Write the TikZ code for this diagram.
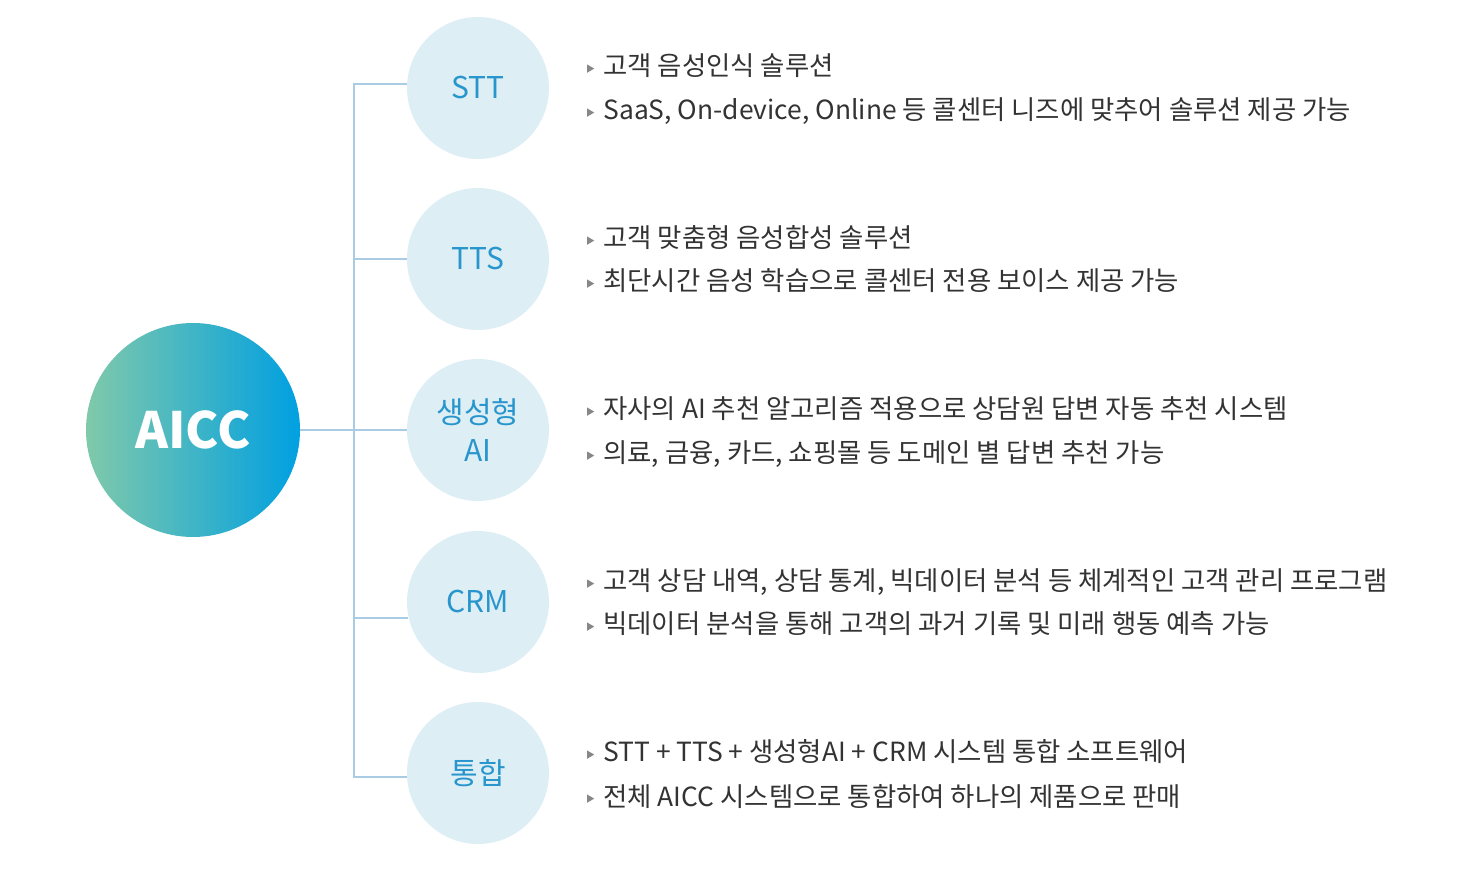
\documentclass[tikz,border=0pt]{standalone}
\usepackage{fontspec}
\setmainfont{Noto Sans CJK KR}
\usetikzlibrary{positioning}
\definecolor{aiccL}{RGB}{128,201,170}
\definecolor{aiccM}{RGB}{0,180,200}
\definecolor{aiccR}{RGB}{0,160,225}
\definecolor{topicfill}{RGB}{221,238,245}
\definecolor{topicblue}{RGB}{40,150,205}
\definecolor{linkblue}{RGB}{170,203,228}
\definecolor{textdark}{RGB}{51,51,51}
\definecolor{bulletgray}{RGB}{135,135,135}
\tikzset{
	hub/.style={circle, minimum size=107pt, inner sep=0pt, left color=aiccL, middle color=aiccM,
		right color=aiccR, text=white, font=\fontsize{25}{28}\selectfont\bfseries},
	topic/.style={circle, minimum size=71pt, inner sep=0pt, fill=topicfill, text=topicblue,
		align=center, font=\fontsize{15}{19}\selectfont},
	desc/.style={anchor=west, inner sep=0pt, text=textdark, text height=0.8em, text depth=0.1em,
		font=\fontsize{13.2}{15}\selectfont},
	branch/.style={draw=linkblue, line width=0.8pt}
}

\begin{document}
\begin{tikzpicture}[x=0.5pt, y=-0.5pt]
	\useasboundingbox (0,0) rectangle (1479,876);
	% centre and topics
	\node[hub] (aicc) at (193,430) {AICC};
	\node[topic] (stt) at (478,88) {STT};
	\node[topic] (tts) at (478,259) {TTS};
	\node[topic] (ai) at (478,430) {생성형\\AI};
	\node[topic] (crm) at (478,602) {CRM};
	\node[topic] (tong) at (478,773) {통합};
	% tree lines
	\coordinate (jn) at (354,430);
	\draw[branch] (aicc) -- (ai);
	\draw[branch] (stt.177) -| (jn) |- (tong.183);
	\draw[branch] (jn) |- (tts.west);
	\draw[branch] (jn) |- (crm.193);
	% descriptions
	\node[desc] (stt1) at (603,69) {고객 음성인식 솔루션};
	\node[desc] (stt2) at (603,113) {SaaS, On-device, Online 등 콜센터 니즈에 맞추어 솔루션 제공 가능};
	\node[desc] (tts1) at (603,241) {고객 맞춤형 음성합성 솔루션};
	\node[desc] (tts2) at (603,284) {최단시간 음성 학습으로 콜센터 전용 보이스 제공 가능};
	\node[desc] (ai1) at (603,412) {자사의 AI 추천 알고리즘 적용으로 상담원 답변 자동 추천 시스템};
	\node[desc] (ai2) at (603,456) {의료, 금융, 카드, 쇼핑몰 등 도메인 별 답변 추천 가능};
	\node[desc] (crm1) at (603,584) {고객 상담 내역, 상담 통계, 빅데이터 분석 등 체계적인 고객 관리 프로그램};
	\node[desc] (crm2) at (603,627) {빅데이터 분석을 통해 고객의 과거 기록 및 미래 행동 예측 가능};
	\node[desc] (tong1) at (603,755) {STT + TTS + 생성형AI + CRM 시스템 통합 소프트웨어};
	\node[desc] (tong2) at (603,799) {전체 AICC 시스템으로 통합하여 하나의 제품으로 판매};
	% bullets
	\foreach \n in {stt1,stt2,tts1,tts2,ai1,ai2,crm1,crm2,tong1,tong2}
		\fill[bulletgray] ([xshift=-8pt,yshift=2.3pt]\n.west) -- ++(3.6pt,-2.1pt) -- ++(-3.6pt,-2.1pt) -- cycle;
\end{tikzpicture}
\end{document}
